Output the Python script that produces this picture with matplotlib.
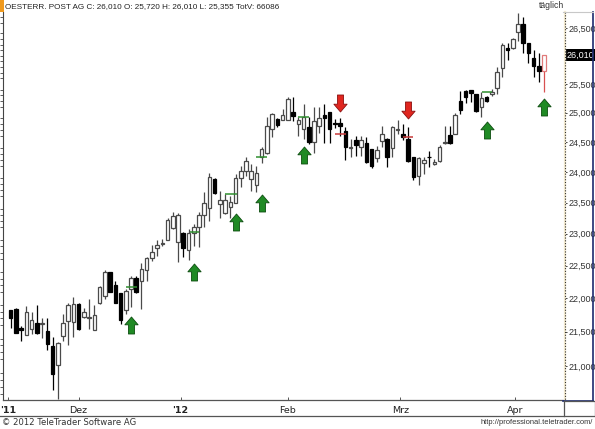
import matplotlib
matplotlib.use('Agg')
import matplotlib.pyplot as plt
import numpy as np
from matplotlib.path import Path
from matplotlib.ticker import FixedLocator, FuncFormatter, NullFormatter
from matplotlib.lines import Line2D
from matplotlib.patches import Rectangle
from matplotlib.transforms import blended_transform_factory

# ---------------- data (EUR) ----------------
opens = [21.820, 21.840, 21.560, 21.455, 21.545, 21.637, 21.620, 21.515, 21.290, 21.015,
         21.436, 21.655, 21.645, 21.920, 21.725, 21.710, 21.530, 21.925, 22.035, 22.405,
         22.200, 22.075, 21.825, 22.135, 22.305, 22.260, 22.440, 22.613, 22.770, 22.845,
         22.905, 23.085, 22.870, 23.005, 22.750, 23.005, 23.115, 23.305, 23.410, 23.890,
         23.480, 23.330, 23.435, 23.490, 23.905, 24.010, 23.880, 23.780, 24.250, 24.320,
         24.720, 24.895, 24.880, 24.875, 25.005, 24.805, 24.720, 24.750, 24.505, 24.765,
         24.960, 25.005, 24.815, 24.820, 24.680, 24.405, 24.530, 24.420, 24.475, 24.380,
         24.235, 24.510, 24.545, 24.405, 24.705, 24.640, 24.555, 24.255, 23.935, 24.145,
         24.250, 24.125, 24.180, 24.485, 24.620, 24.640, 25.195, 25.370, 25.385, 25.315,
         25.105, 25.265, 25.315, 25.420, 25.785, 26.130, 26.130, 26.430, 26.575, 26.225,
         25.960, 25.810, 25.720]
highs = [21.830, 21.860, 21.590, 21.890, 21.790, 21.900, 21.700, 21.700, 21.425, 21.355,
         21.767, 21.925, 22.020, 21.935, 21.850, 21.985, 21.900, 22.185, 22.430, 22.410,
         22.260, 22.085, 22.135, 22.345, 22.345, 22.540, 22.635, 22.830, 22.900, 22.925,
         23.255, 23.345, 23.330, 23.030, 23.070, 23.160, 23.355, 23.665, 23.990, 23.905,
         23.685, 23.630, 23.610, 23.960, 24.100, 24.240, 24.130, 24.100, 24.420, 24.920,
         24.990, 24.910, 25.065, 25.275, 25.275, 24.920, 25.150, 24.920, 25.090, 25.100,
         25.150, 25.005, 24.895, 24.910, 24.750, 24.545, 24.600, 24.600, 24.585, 24.380,
         24.435, 24.775, 24.575, 24.775, 24.875, 24.800, 24.750, 24.255, 24.245, 24.245,
         24.350, 24.215, 24.445, 24.775, 24.775, 24.990, 25.370, 25.395, 25.395, 25.325,
         25.355, 25.290, 25.410, 25.795, 26.225, 26.225, 26.310, 26.775, 26.710, 26.235,
         26.100, 26.045, 26.010]
lows = [21.560, 21.480, 21.370, 21.445, 21.470, 21.465, 21.410, 21.230, 20.660, 20.525,
        21.360, 21.300, 21.425, 21.520, 21.700, 21.545, 21.530, 21.910, 21.985, 22.090,
        21.925, 21.610, 21.760, 21.875, 22.080, 21.835, 22.260, 22.580, 22.655, 22.800,
        22.895, 23.070, 22.550, 22.630, 22.585, 22.810, 22.795, 23.100, 23.200, 23.640,
        23.245, 23.315, 23.245, 23.490, 23.750, 23.935, 23.685, 23.670, 24.140, 24.305,
        24.580, 24.750, 24.865, 24.865, 24.850, 24.600, 24.545, 24.460, 24.320, 24.660,
        24.490, 24.490, 24.740, 24.600, 24.200, 24.245, 24.270, 24.270, 24.140, 24.065,
        24.160, 24.410, 24.080, 24.245, 24.640, 24.535, 24.160, 23.865, 23.785, 23.970,
        24.080, 24.110, 24.160, 24.465, 24.465, 24.630, 24.970, 25.165, 25.180, 25.005,
        24.920, 25.180, 25.290, 25.325, 25.615, 25.920, 26.115, 26.255, 26.050, 25.870,
        25.615, 25.525, 25.355]
closes = [21.706, 21.485, 21.520, 21.800, 21.680, 21.478, 21.635, 21.315, 20.880, 21.330,
          21.628, 21.900, 21.920, 21.535, 21.792, 21.720, 21.750, 22.175, 22.400, 22.095,
          21.935, 21.670, 22.110, 22.315, 22.090, 22.450, 22.615, 22.715, 22.830, 22.855,
          23.214, 23.290, 23.305, 22.780, 23.005, 23.110, 23.295, 23.500, 23.917, 23.655,
          23.535, 23.545, 23.515, 23.895, 24.010, 24.180, 24.017, 23.985, 24.380, 24.776,
          24.980, 24.780, 24.960, 25.236, 24.935, 24.875, 24.930, 24.500, 24.850, 24.910,
          24.910, 24.720, 24.805, 24.765, 24.410, 24.415, 24.450, 24.530, 24.170, 24.100,
          24.365, 24.640, 24.245, 24.760, 24.715, 24.585, 24.185, 23.920, 24.235, 24.200,
          24.240, 24.160, 24.420, 24.495, 24.475, 24.960, 25.045, 25.275, 25.335, 25.025,
          25.255, 25.205, 25.365, 25.706, 26.192, 26.100, 26.295, 26.575, 26.225, 26.050,
          25.810, 25.725, 26.010]

month_pos = [-0.5, 13.0, 32.5, 53.0, 74.5, 96.5]
month_labels = ["'11", "Dez", "'12", "Feb", "Mrz", "Apr"]
# 26,000 is hidden behind the last-price box in the reference
price_ticks = [21.0, 21.5, 22.0, 22.5, 23.0, 23.5, 24.0, 24.5, 25.0, 25.5, 26.5]

up_arrow_idx = [23, 35, 43, 48, 56, 91, 102]
up_arrow_price = [21.60, 22.41, 23.19, 23.49, 24.28, 24.71, 25.10]
down_arrow_idx = [63, 76]
down_arrow_price = [25.16, 25.05]

green_sig_start = [22.0, 34.3, 41.0, 47.0, 54.9, 90.1]
green_sig_end = [24.1, 36.0, 43.3, 49.1, 57.0, 92.0]
green_sig_price = [22.17, 23.02, 23.63, 24.25, 24.93, 25.355]
red_sig_start = [62.0, 75.1]
red_sig_end = [64.2, 77.0]
red_sig_price = [24.64, 24.585]

header = "OESTERR. POST AG C: 26,010 O: 25,720 H: 26,010 L: 25,355 TotV: 66086"
last_label = "26,010"

# ---------------- figure ----------------
W, H = 595, 429
fig = plt.figure(figsize=(W / 100, H / 100), dpi=100)
fig.patch.set_facecolor('white')

def fx(p):
    return p / W

def fy(p):
    return 1 - p / H

ax = fig.add_axes([fx(3), fy(400), (564 - 3) / W, (400 - 12) / H])
ax.set_facecolor('white')
ax.set_yscale('log')
ax.set_ylim(20.513, 26.793)
ax.set_xlim(-1.47, 105.8)

n = len(opens)
xs = np.arange(n)
o = np.array(opens); c = np.array(closes); h = np.array(highs); l = np.array(lows)
up = c >= o

edge_white = '#4a4a4a'
faces, edges, wcols = [], [], []
for i in range(n):
    if i == n - 1:
        faces.append('white'); edges.append('#e07a7a'); wcols.append('#d85050')
    elif up[i]:
        faces.append('white'); edges.append(edge_white); wcols.append(edge_white)
    else:
        faces.append('black'); edges.append('black'); wcols.append('black')

ax.vlines(xs, l, h, colors=wcols, linewidth=0.9, zorder=2)
bottoms = np.minimum(o, c)
heights = np.maximum(np.abs(c - o), 0.004)
ax.bar(xs, heights, bottom=bottoms, width=0.68, color=faces, edgecolor=edges,
       linewidth=0.9, zorder=3)

# signal dashes
ax.hlines(green_sig_price, green_sig_start, green_sig_end, colors='#2f8f2f', linewidth=1.1, zorder=4)
ax.hlines(red_sig_price, red_sig_start, red_sig_end, colors='#c83a3a', linewidth=1.1, zorder=4)

# arrows
up_verts = [(0, 1), (0.78, 0.08), (0.36, 0.08), (0.36, -1), (-0.36, -1),
            (-0.36, 0.08), (-0.78, 0.08), (0, 1)]
up_path = Path(up_verts, [Path.MOVETO] + [Path.LINETO] * 6 + [Path.CLOSEPOLY])
dn_path = Path([(x, -y) for x, y in up_verts], [Path.MOVETO] + [Path.LINETO] * 6 + [Path.CLOSEPOLY])
ms = 17 * 72 / 100
ax.plot(up_arrow_idx, up_arrow_price, linestyle='none', marker=up_path, markersize=ms,
        markerfacecolor='#1f8a24', markeredgecolor='#0d4d10', markeredgewidth=0.6, zorder=5)
ax.plot(down_arrow_idx, down_arrow_price, linestyle='none', marker=dn_path, markersize=ms,
        markerfacecolor='#e0261f', markeredgecolor='#8a1010', markeredgewidth=0.6, zorder=5)

# axes styling
for s in ['top', 'right']:
    ax.spines[s].set_visible(False)
ax.spines['left'].set_color('#444444')
ax.spines['left'].set_linewidth(0.8)
ax.spines['bottom'].set_color('#555555')
ax.spines['bottom'].set_linewidth(0.9)

ax.yaxis.set_major_locator(FixedLocator(price_ticks))
ax.yaxis.set_major_formatter(FuncFormatter(lambda v, p: f"{v:.3f}".replace('.', ',')))
ax.yaxis.set_minor_locator(FixedLocator(np.arange(20.6, 26.85, 0.1)))
ax.yaxis.set_minor_formatter(NullFormatter())
ax.tick_params(axis='y', which='major', left=False, right=True, labelleft=False,
               labelright=True, direction='out', length=2, width=0.7, pad=1.5,
               labelsize=6.5, colors='#333333', labelcolor='#333333')
ax.tick_params(axis='y', which='minor', left=True, right=False, direction='out',
               length=2, width=0.6, colors='#444444')
for t in ax.get_yticklabels():
    t.set_fontfamily('Liberation Sans')

ax.set_xticks(month_pos)
ax.set_xticklabels(month_labels)
ax.tick_params(axis='x', which='major', direction='in', length=2, width=0.7,
               pad=4, labelsize=6.8, colors='#555555', labelcolor='#222222')
for t in ax.get_xticklabels():
    t.set_fontfamily('DejaVu Sans')
    if t.get_text().startswith("'"):
        t.set_fontweight('bold')

# right-hand dotted axis line
fig.add_artist(Line2D([fx(564.5)] * 2, [fy(12), fy(400)], color='#f3ead0', linewidth=1.6))
fig.add_artist(Line2D([fx(564.5)] * 2, [fy(12), fy(400)], color='#333333', linewidth=0.8,
                      linestyle=(0, (1, 1.5))))
# right panel frame
fig.add_artist(Line2D([fx(593)] * 2, [fy(12), fy(400.5)], color='#1c2a6e', linewidth=1.2))
fig.add_artist(Line2D([fx(563), fx(593)], [fy(400.5)] * 2, color='#1c2a6e', linewidth=1.2))
fig.add_artist(Line2D([fx(563), fx(593)], [fy(12)] * 2, color='#c8c8c8', linewidth=0.8))

# x strip frame
fig.add_artist(Line2D([0, fx(595)], [fy(415.5)] * 2, color='#555555', linewidth=0.9))
fig.add_artist(Line2D([fx(564), fx(595)], [fy(401)] * 2, color='#555555', linewidth=0.9))
fig.add_artist(Line2D([fx(563.5)] * 2, [fy(401), fy(415.5)], color='#555555', linewidth=0.9))
fig.add_artist(Line2D([fx(594.5)] * 2, [fy(401), fy(415.5)], color='#555555', linewidth=0.9))

# last price box
trans = blended_transform_factory(ax.transAxes, ax.transData)
ax.text(1.0 + 3 / 561, closes[-1], last_label, transform=trans, ha='left', va='center',
        fontsize=6.5, color='white', family='Liberation Sans',
        bbox=dict(facecolor='black', edgecolor='none', boxstyle='square,pad=0.15'),
        clip_on=False, zorder=10)

# header / footer texts
fig.patches.append(Rectangle((0, fy(12)), fx(4), 12 / H, transform=fig.transFigure,
                             facecolor='#f09a1e', edgecolor='none'))
fig.text(fx(5), fy(6.5), header, ha='left', va='center', fontsize=5.9,
         family='Liberation Sans', color='#222222')
fig.text(fx(552), fy(6), 't\u00e4glich', ha='center', va='center', fontsize=6.2,
         family='Liberation Sans', color='#333333')
fig.text(fx(2), fy(422.5), '\u00a9 2012 TeleTrader Software AG', ha='left', va='center',
         fontsize=6.1, family='DejaVu Sans', color='#333333')
fig.text(fx(593), fy(422.5), 'http://professional.teletrader.com/', ha='right', va='center',
         fontsize=5.4, family='Liberation Sans', color='#333333')

fig.savefig('out.png', dpi=100, facecolor='white')
